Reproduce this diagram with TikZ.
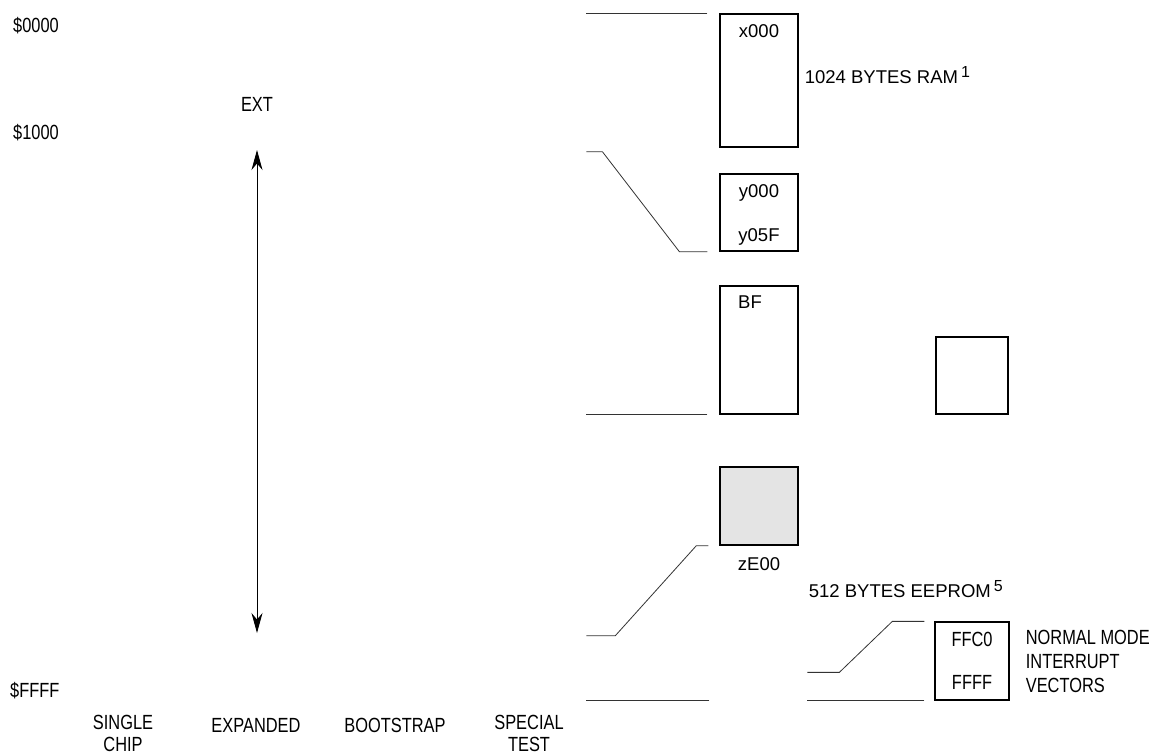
\documentclass[tikz,border=0pt]{standalone}
\usepackage{fontspec}
\setmainfont{Liberation Sans}
\newfontfamily\narrowfont{Liberation Sans}[FakeStretch=0.8]
\usepackage{xcolor}
\usetikzlibrary{arrows.meta,positioning}
\definecolor{eeshade}{RGB}{228,228,228}
\newcommand{\supnum}[1]{\,\raisebox{6pt}{\fontsize{16}{16}\selectfont #1}}
\tikzset{
  mapbox/.style={rectangle,draw=black,line width=1.3pt,inner sep=0pt,
                 minimum width=#1},
  mapbox/.default=78pt,
  lbl/.style={font=\fontsize{18.5}{22}\selectfont,inner sep=0pt,align=#1},
  lbl/.default=center,
  nlbl/.style={font=\narrowfont\fontsize{20.5}{22}\selectfont,inner sep=0pt,align=#1},
  nlbl/.default=center,
  lead/.style={line width=0.8pt,draw=black!80},
  arr/.style={{Stealth[length=20pt,width=11pt]}-{Stealth[length=20pt,width=11pt]},
              line width=0.9pt},
}
\begin{document}
\begin{tikzpicture}[x=1pt,y=-1pt]
  \useasboundingbox (0,0) rectangle (1158,755);

  % --- address labels and EXT range ---
  \node[nlbl,anchor=west] (a0) at (13,26) {\$0000};
  \node[nlbl,anchor=west] (a1) at (13,133) {\$1000};
  \node[nlbl,anchor=west] (af) at (10,691) {\$FFFF};
  \node[nlbl] (ext) at (257,104) {EXT};
  \coordinate (exttop) at (257,150);
  \coordinate (extbot) at (257,633);
  \draw[arr] (exttop) -- (extbot);

  % --- mode names ---
  \node[nlbl] (single) at (123,733) {SINGLE\\CHIP};
  \node[nlbl] (expd) at (256,725) {EXPANDED};
  \node[nlbl] (boot) at (395,725) {BOOTSTRAP};
  \node[nlbl] (spec) at (529,733) {SPECIAL\\TEST};

  % --- memory blocks ---
  \node[mapbox,minimum height=133pt] (ram) at (759,80.5) {};
  \node[mapbox,minimum height=77pt] (reg) at (759,212.5) {};
  \node[mapbox,minimum height=128pt] (bf) at (759,350) {};
  \node[mapbox=72pt,minimum height=77pt] (spare) at (972,375.5) {};
  \node[mapbox,minimum height=78pt,fill=eeshade] (ee) at (759,506) {};
  \node[mapbox=74pt,minimum height=78pt] (vec) at (972,661) {};

  \node[lbl] (ramtxt) at ([yshift=-18pt]ram.north) {x000};
  \node[lbl] (regtop) at ([yshift=-20pt]reg.north) {y000};
  \node[lbl] (regbot) at ([yshift=15pt]reg.south) {y05F};
  \node[lbl] (bftxt) at ([xshift=-9pt,yshift=-17pt]bf.north) {BF};
  \node[lbl] (eetxt) at ([yshift=-18pt]ee.south) {zE00};
  \node[nlbl] (vectop) at ([yshift=-18pt]vec.north) {FFC0};
  \node[nlbl] (vecbot) at ([yshift=18pt]vec.south) {FFFF};

  \node[lbl,anchor=west] (ramlbl) at ([xshift=6pt,yshift=5.5pt]ram.east)
    {1024 BYTES RAM\supnum{1}};
  \node[lbl,anchor=west] (eelbl) at ([xshift=10pt,yshift=-43pt]ee.south east)
    {512 BYTES EEPROM\supnum{5}};
  \node[nlbl=left,anchor=west,font=\narrowfont\fontsize{20.5}{24}\selectfont]
    (veclbl) at ([xshift=16pt]vec.east) {NORMAL MODE\\INTERRUPT\\VECTORS};

  % --- leader lines ---
  \draw[lead] ([xshift=-12pt]ram.north west) -- ++(-121,0);
  \draw[lead] ([xshift=-12pt]reg.south west) -- ++(-28,0) -- ++(-77,-100) -- ++(-16,0);
  \draw[lead] ([xshift=-12pt]bf.south west) -- ++(-121,0);
  \draw[lead] ([xshift=-11pt]ee.south west) -- ++(-12,0) -- ++(-81,90) -- ++(-29,0);
  \draw[lead] ([xshift=-10pt]ee.west |- vec.south) -- ++(-123,0);
  \draw[lead] ([xshift=-10pt]vec.north west) -- ++(-32,0) -- ++(-53,51) -- ++(-32,0);
  \draw[lead] ([xshift=-10pt]vec.south west) -- ++(-117,0);
\end{tikzpicture}
\end{document}
